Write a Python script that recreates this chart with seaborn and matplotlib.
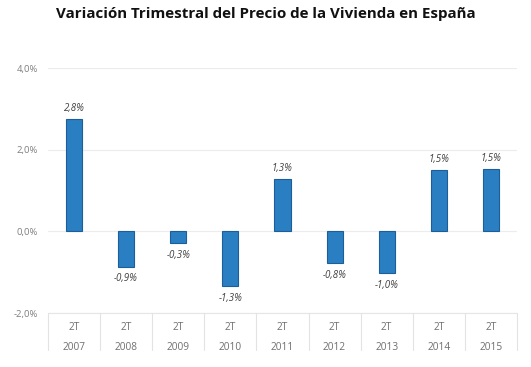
import matplotlib.pyplot as plt
import numpy as np
import pandas as pd
import seaborn as sns

# datos
anios = ['2007', '2008', '2009', '2010', '2011', '2012', '2013', '2014', '2015']
trimestre = ['2T'] * 9
variacion = [2.75, -0.86, -0.29, -1.34, 1.28, -0.78, -1.02, 1.50, 1.52]
etiquetas = ['2,8%', '-0,9%', '-0,3%', '-1,3%', '1,3%', '-0,8%', '-1,0%', '1,5%', '1,5%']
yticks = [-2, 0, 2, 4]
ytick_labels = ['-2,0%', '0,0%', '2,0%', '4,0%']

df = pd.DataFrame({'anio': anios, 'var': variacion})

sns.set_theme(style='white')
plt.rcParams['font.family'] = ['Open Sans', 'DejaVu Sans']

fig = plt.figure(figsize=(5.31, 3.67), dpi=100)
ax = fig.add_axes([0.0904, 0.147, 0.8832, 0.667])

sns.barplot(data=df, x='anio', y='var', color='#2A7FC2', width=0.31,
            edgecolor='#1D5E9A', linewidth=0.8, saturation=1, ax=ax)

ax.set_ylim(-2, 4)
ax.set_xlim(-0.5, 8.5)
ax.set_yticks(yticks)
ax.set_yticklabels(ytick_labels, color='#7f7f7f', fontsize=6.8)
ax.yaxis.grid(True, color='#ececec', linewidth=0.8)
ax.set_axisbelow(True)
ax.tick_params(axis='y', length=0, pad=7)
ax.tick_params(axis='x', length=0)
ax.set_xticks(range(len(anios)))
ax.set_xticklabels([])
ax.set_xlabel('')
ax.set_ylabel('')
for s in ax.spines.values():
    s.set_visible(False)
ax.axhline(-2, color='#e6e6e6', linewidth=0.8, clip_on=False)

# etiquetas de valores
for i, (v, t) in enumerate(zip(variacion, etiquetas)):
    off = 0.27 if v > 0 else -0.3
    ax.text(i, v + off, t, ha='center', va='center', fontsize=7,
            style='italic', color='#404040')

# tabla de categorias debajo del eje
trans = ax.get_xaxis_transform()
for b in np.arange(-0.5, 9.0, 1.0):
    ax.plot([b, b], [0, -0.15], transform=trans, color='#e3e3e3',
            linewidth=0.8, clip_on=False)
for i, (q, a) in enumerate(zip(trimestre, anios)):
    ax.text(i, -0.058, q, transform=trans, ha='center', va='center',
            fontsize=7.3, color='#6f6f6f')
    ax.text(i, -0.14, a, transform=trans, ha='center', va='center',
            fontsize=7.3, color='#6f6f6f')

fig.text(0.5, 0.962, 'Variación Trimestral del Precio de la Vivienda en España',
         ha='center', va='center', fontsize=10.9, fontweight='bold',
         family=['Open Sans', 'DejaVu Sans'], color='#111111')

fig.savefig('out.png', dpi=100)
